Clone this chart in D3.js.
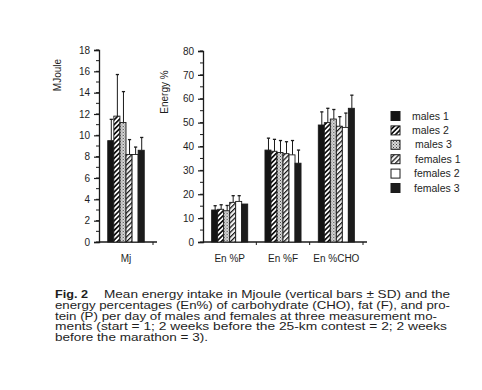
<!DOCTYPE html>
<html><head><meta charset="utf-8">
<script src="https://cdn.jsdelivr.net/npm/d3@7"></script>
<style>
body{margin:0;background:#fff;}
svg{display:block;font-family:"Liberation Sans",Arial,Helvetica,sans-serif;}
text{fill:#1e1e1e;}
</style></head>
<body>
<script>
const series = ["males 1","males 2","males 3","females 1","females 2","females 3"];
const mjCategories = ["Mj"];
const mjMean = [9.5, 11.8, 11.2, 8.2, 8.2, 8.6];
const mjSD   = [2.0, 3.9, 2.9, 1.4, 0.7, 1.2];
const enCategories = ["En %P","En %F","En %CHO"];
const pMean   = [13.4, 13.7, 13.1, 16.6, 17.0, 15.9];
const pSD     = [1.8, 1.9, 2.2, 2.8, 2.4, 0];
const fMean   = [38.5, 38.0, 37.5, 37.0, 36.5, 33.0];
const fSD     = [5.0, 5.0, 5.0, 5.0, 6.0, 5.5];
const choMean = [49.0, 50.0, 51.5, 48.5, 48.0, 56.0];
const choSD   = [5.5, 6.0, 4.0, 4.0, 6.0, 5.5];
const mjTicks = [0,2,4,6,8,10,12,14,16,18];
const enTicks = [0,10,20,30,40,50,60,70,80];
const captionLines = [
  "Mean energy intake in Mjoule (vertical bars \u00b1 SD) and the",
  "energy percentages (En%) of carbohydrate (CHO), fat (F), and pro-",
  "tein (P) per day of males and females at three measurement mo-",
  "ments (start = 1; 2 weeks before the 25-km contest = 2; 2 weeks",
  "before the marathon = 3)."
];

const W = 482, H = 390;
const svg = d3.select("body").append("svg").attr("width", W).attr("height", H);
const defs = svg.append("defs");

function hatch(id, sw, bg){
  const p = defs.append("pattern").attr("id", id).attr("patternUnits","userSpaceOnUse")
    .attr("width", 3.4).attr("height", 3.4).attr("patternTransform","rotate(45)");
  p.append("rect").attr("width",3.4).attr("height",3.4).attr("fill",bg);
  p.append("rect").attr("width",sw).attr("height",3.4).attr("fill","#111");
}
hatch("hm2", 1.7, "#fff");
hatch("hf1", 1.2, "#f4f4f4");
const st = defs.append("pattern").attr("id","stip").attr("patternUnits","userSpaceOnUse")
  .attr("width",3).attr("height",3);
st.append("rect").attr("width",3).attr("height",3).attr("fill","#d8d8d8");
st.append("rect").attr("x",0).attr("y",0).attr("width",1).attr("height",1).attr("fill","#444");
st.append("rect").attr("x",1.5).attr("y",1.5).attr("width",1).attr("height",1).attr("fill","#666");

const fills = ["#141414","url(#hm2)","url(#stip)","url(#hf1)","#ffffff","#1c1c1c"];
const color = d3.scaleOrdinal().domain(series).range(fills);
const ink = "#1a1a1a";

function panel(opts){
  const {cats, values, sds, yMax, ticks, x0r, ySpan, label, labelX, labelY} = opts;
  const x0 = d3.scaleBand().domain(cats).range(x0r).paddingInner(0.324).paddingOuter(0.162);
  const x1 = d3.scaleBand().domain(series).range([0, x0.bandwidth()]);
  const y = d3.scaleLinear().domain([0, yMax]).range(ySpan);
  const g = svg.append("g");

  const minor = d3.range(0, yMax + 1e-9, ticks[1]/2);
  g.selectAll("line.minor").data(minor).join("line")
    .attr("x1", x0r[0]-3).attr("x2", x0r[0]).attr("y1", d=>y(d)).attr("y2", d=>y(d))
    .attr("stroke", ink).attr("stroke-width", 1);
  const yAxis = d3.axisLeft(y).tickValues(ticks).tickSize(5).tickPadding(4);
  const ya = g.append("g").attr("transform", `translate(${x0r[0]},0)`).call(yAxis);
  ya.select(".domain").attr("stroke", ink).attr("stroke-width", 1.3);
  ya.selectAll(".tick line").attr("stroke", ink).attr("stroke-width", 1.2);
  ya.selectAll("text").attr("font-size", 10).attr("fill", "#1e1e1e");

  g.append("line").attr("x1", x0r[0]).attr("x2", x0r[1]+4)
    .attr("y1", y(0)).attr("y2", y(0)).attr("stroke", ink).attr("stroke-width", 1.3);
  const bounds = cats.map(c => x0(c) + x0.bandwidth() + x0.step()*0.162);
  g.selectAll("line.xt").data(bounds).join("line")
    .attr("x1", d=>d).attr("x2", d=>d).attr("y1", y(0)).attr("y2", y(0)+3)
    .attr("stroke", ink).attr("stroke-width", 1);
  g.selectAll("text.cat").data(cats).join("text")
    .attr("x", d => x0(d) + x0.bandwidth()/2).attr("y", y(0)+20)
    .attr("text-anchor","middle").attr("font-size", 10).text(d=>d);

  cats.forEach((c, ci) => {
    const gg = g.append("g").attr("transform", `translate(${x0(c)},0)`);
    const data = series.map((s, i) => ({s, v: values[ci][i], sd: sds[ci][i]}));
    data.forEach(d => {
      if (d.sd <= 0) return;
      const cx = x1(d.s) + x1.bandwidth()/2 + 0.5;
      gg.append("line").attr("x1", cx).attr("x2", cx).attr("y1", y(d.v)).attr("y2", y(d.v + d.sd))
        .attr("stroke", ink).attr("stroke-width", 1);
      gg.append("line").attr("x1", cx-1.6).attr("x2", cx+1.6).attr("y1", y(d.v + d.sd)).attr("y2", y(d.v + d.sd))
        .attr("stroke", ink).attr("stroke-width", 1.3);
    });
    gg.selectAll("rect").data(data).join("rect")
      .attr("x", d => x1(d.s)).attr("width", x1.bandwidth())
      .attr("y", d => y(d.v)).attr("height", d => y(0) - y(d.v))
      .attr("fill", d => color(d.s)).attr("stroke", ink).attr("stroke-width", 0.9);
  });

  svg.append("text").attr("transform", `translate(${labelX},${labelY}) rotate(-90)`)
    .attr("text-anchor","middle").attr("font-size", 10).text(label);
}

panel({cats: mjCategories, values: [mjMean], sds: [mjSD], yMax: 18, ticks: mjTicks,
  x0r: [99, 153], ySpan: [242, 50], label: "MJoule", labelX: 61, labelY: 75});
panel({cats: enCategories, values: [pMean, fMean, choMean], sds: [pSD, fSD, choSD], yMax: 80, ticks: enTicks,
  x0r: [203, 363], ySpan: [242, 51], label: "Energy %", labelX: 168, labelY: 92});

const legY = d3.scalePoint().domain(series).range([116, 188]);
const lg = svg.append("g");
series.forEach((s, i) => {
  const yy = legY(s);
  lg.append("rect").attr("x", 391).attr("y", yy-4.5).attr("width", 9).attr("height", 9)
    .attr("fill", color(s)).attr("stroke", ink).attr("stroke-width", 1);
  lg.append("text").attr("x", i < 2 ? 412 : (i === 2 || i === 3 ? 415 : 414)).attr("y", yy + 3.6)
    .attr("font-size", 10.5).text(s);
});

const cap = svg.append("g");
const baseY = [298, 309, 319.5, 330, 340.5];
const lineStart = [104, 55, 55, 55, 55];
const lineEnd = [450, 450, 437, 447, 208];
cap.append("text").attr("x", 55).attr("y", 298).attr("font-size", 11).attr("font-weight","bold")
  .attr("textLength", 33).attr("lengthAdjust","spacingAndGlyphs").text("Fig. 2");
captionLines.forEach((t, i) => {
  cap.append("text").attr("x", lineStart[i]).attr("y", baseY[i]).attr("font-size", 11)
    .attr("textLength", lineEnd[i] - lineStart[i]).attr("lengthAdjust","spacingAndGlyphs").text(t);
});
</script>
</body></html>
